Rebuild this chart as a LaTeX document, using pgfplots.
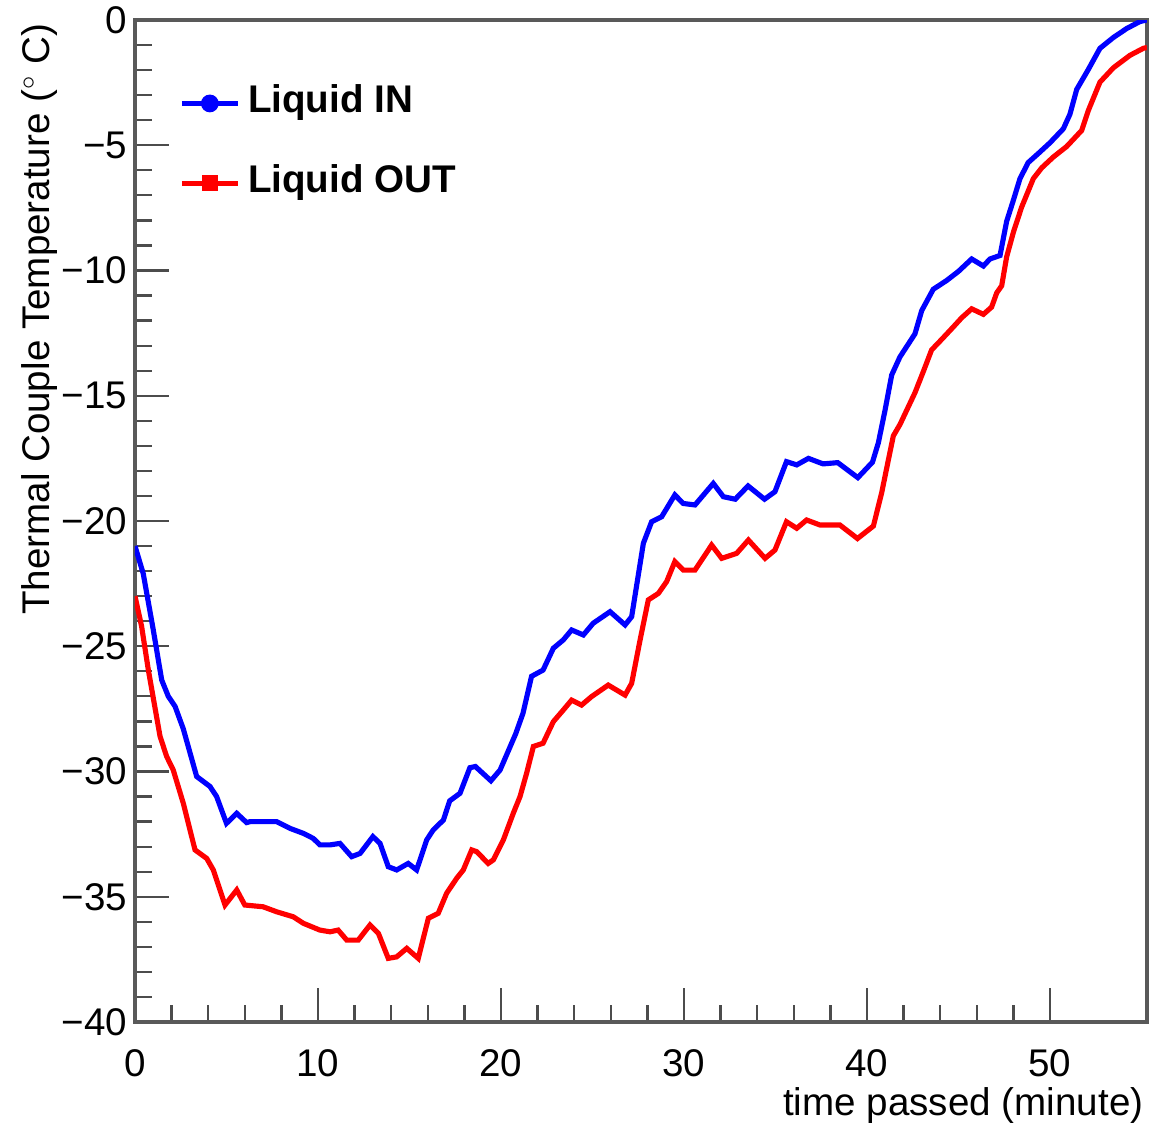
\documentclass[border=0pt]{standalone}
\usepackage{fontspec}
\setmainfont{Liberation Sans}
\usepackage{pgfplots}
\pgfplotsset{compat=1.18}
\begin{document}
\fontsize{13.5}{16}\selectfont
\begin{tikzpicture}
\path[use as bounding box] (-47.25pt,-36.05pt) rectangle (354.9pt,357.7pt);
\begin{axis}[
  at={(0,0)}, anchor=south west,
  scale only axis, width=354.2pt, height=350.7pt,
  xmin=0, xmax=55.3, ymin=-40, ymax=0,
  axis line style={black!65, line width=1.1pt},
  xtick={0,10,20,30,40,50},
  ytick={-40,-35,-30,-25,-20,-15,-10,-5,0},
  yticklabels={−40,−35,−30,−25,−20,−15,−10,−5,0},
  minor x tick num=4, minor y tick num=4,
  xtick pos=bottom, ytick pos=left,
  tick align=inside,
  major tick length=12pt, minor tick length=6pt,
  tick style={black!70, line width=0.8pt},
  /pgf/number format/assume math mode=true,
  ticklabel style={font=\fontsize{13.5}{16}\selectfont},
  xticklabel style={inner sep=0pt, yshift=-9.6pt},
  yticklabel style={xshift=1.9pt},
  every axis x label/.style={at={(axis description cs:0.997,0)}, anchor=base east, yshift=-32.8pt, inner sep=0pt},
  every axis y label/.style={at={(axis description cs:-0.084,0.997)}, rotate=90, anchor=base east, inner sep=0pt},
  xlabel={time passed (minute)},
  ylabel={Thermal Couple Temperature ($^{\circ}$ C)},
  label style={font=\fontsize{13.5}{16}\selectfont},
  legend image code/.code={\draw[mark repeat=2,mark phase=2,#1] plot coordinates {(0pt,0pt) (9.8pt,0pt) (19.6pt,0pt)};},
  legend cell align=left,
  legend style={at={(axis description cs:0,1)}, anchor=north west, xshift=15.4pt, yshift=-22.75pt,
    draw=none, fill=none, inner sep=0pt, row sep=15.5pt,
    font=\fontsize{13.5}{16}\selectfont\bfseries,
    nodes={inner sep=0pt, text height=9.5pt, text depth=3pt},
    /tikz/every odd column/.append style={column sep=2.8pt}},
]
\addplot[blue, line width=1.8pt, mark=none, forget plot] coordinates {
(0,-21.0) (0.45,-22.1) (1.0,-24.35) (1.46,-26.35) (1.82,-27.0) (2.19,-27.4) (2.64,-28.3) (3.37,-30.2) (4.1,-30.6) (4.46,-31.0) (5.0,-32.07) (5.56,-31.67) (6.1,-32.04) (6.3,-32.0) (7.74,-32.0) (8.47,-32.27) (9.2,-32.47) (9.74,-32.67) (10.1,-32.93) (10.66,-32.93) (11.2,-32.87) (11.84,-33.4) (12.3,-33.27) (13.0,-32.6) (13.39,-32.87) (13.84,-33.8) (14.3,-33.93) (14.93,-33.67) (15.39,-33.93) (15.94,-32.73) (16.3,-32.33) (16.85,-31.94) (17.2,-31.17) (17.76,-30.87) (18.3,-29.85) (18.6,-29.8) (19.45,-30.37) (19.95,-29.94) (20.8,-28.5) (21.2,-27.68) (21.67,-26.2) (22.3,-25.95) (22.86,-25.08) (23.4,-24.75) (23.86,-24.35) (24.5,-24.55) (25.04,-24.08) (25.96,-23.62) (26.78,-24.15) (27.14,-23.82) (27.78,-20.89) (28.23,-20.03) (28.78,-19.83) (29.5,-18.96) (29.96,-19.3) (30.6,-19.36) (31.6,-18.5) (32.15,-19.03) (32.8,-19.13) (33.5,-18.6) (34.4,-19.13) (34.97,-18.83) (35.6,-17.63) (36.16,-17.76) (36.8,-17.5) (37.6,-17.72) (38.4,-17.67) (39.5,-18.27) (40.3,-17.65) (40.62,-16.88) (40.98,-15.6) (41.35,-14.17) (41.8,-13.45) (42.62,-12.53) (42.99,-11.6) (43.62,-10.75) (44.35,-10.4) (44.99,-10.04) (45.72,-9.54) (46.36,-9.82) (46.72,-9.54) (47.27,-9.4) (47.63,-8.04) (48.0,-7.19) (48.36,-6.33) (48.81,-5.69) (49.36,-5.33) (50.0,-4.9) (50.73,-4.34) (51.09,-3.76) (51.46,-2.77) (52.09,-1.98) (52.73,-1.13) (53.46,-0.7) (54.19,-0.34) (54.92,-0.06) (55.3,0.0)
};
\addplot[red, line width=1.8pt, mark=none, forget plot] coordinates {
(0,-23.0) (0.36,-24.2) (0.73,-25.95) (1.37,-28.6) (1.73,-29.4) (2.09,-29.94) (2.64,-31.27) (3.28,-33.13) (3.92,-33.47) (4.28,-33.93) (4.92,-35.33) (5.56,-34.73) (6.0,-35.33) (7.0,-35.4) (7.74,-35.6) (8.65,-35.8) (9.2,-36.06) (10.1,-36.33) (10.66,-36.4) (11.1,-36.33) (11.57,-36.73) (12.2,-36.73) (12.84,-36.13) (13.3,-36.46) (13.84,-37.46) (14.3,-37.4) (14.85,-37.06) (15.48,-37.46) (16.03,-35.86) (16.57,-35.66) (17.03,-34.86) (17.58,-34.26) (17.94,-33.93) (18.4,-33.13) (18.67,-33.2) (19.3,-33.67) (19.58,-33.53) (20.13,-32.73) (20.67,-31.67) (21.04,-31.0) (21.4,-30.07) (21.77,-29.0) (22.3,-28.87) (22.86,-28.01) (23.4,-27.55) (23.86,-27.15) (24.4,-27.35) (24.95,-27.01) (25.86,-26.55) (26.78,-26.95) (27.14,-26.48) (27.6,-24.75) (28.05,-23.15) (28.6,-22.89) (29.05,-22.42) (29.5,-21.62) (29.96,-21.96) (30.6,-21.96) (31.51,-20.96) (32.06,-21.49) (32.88,-21.29) (33.52,-20.76) (34.43,-21.49) (34.97,-21.16) (35.6,-20.03) (36.16,-20.29) (36.7,-19.96) (37.43,-20.16) (38.52,-20.16) (39.48,-20.7) (40.35,-20.2) (40.8,-18.88) (41.16,-17.59) (41.44,-16.6) (41.8,-16.15) (42.62,-14.88) (43.08,-14.03) (43.53,-13.17) (44.08,-12.75) (44.72,-12.25) (45.17,-11.89) (45.72,-11.53) (46.36,-11.75) (46.81,-11.46) (47.09,-10.89) (47.36,-10.61) (47.63,-9.46) (48.0,-8.47) (48.45,-7.47) (49.09,-6.33) (49.55,-5.9) (50.18,-5.47) (50.91,-5.05) (51.73,-4.41) (52.09,-3.62) (52.73,-2.48) (53.46,-1.91) (54.37,-1.41) (55.1,-1.13) (55.3,-1.1)
};
\addlegendimage{blue, line width=1.6pt, mark=*, mark size=2.3pt, mark options={solid}}
\addlegendentry{Liquid IN}
\addlegendimage{red, line width=1.6pt, mark=square*, mark size=2pt, mark options={solid}}
\addlegendentry{Liquid OUT}
\end{axis}
\end{tikzpicture}
\end{document}
